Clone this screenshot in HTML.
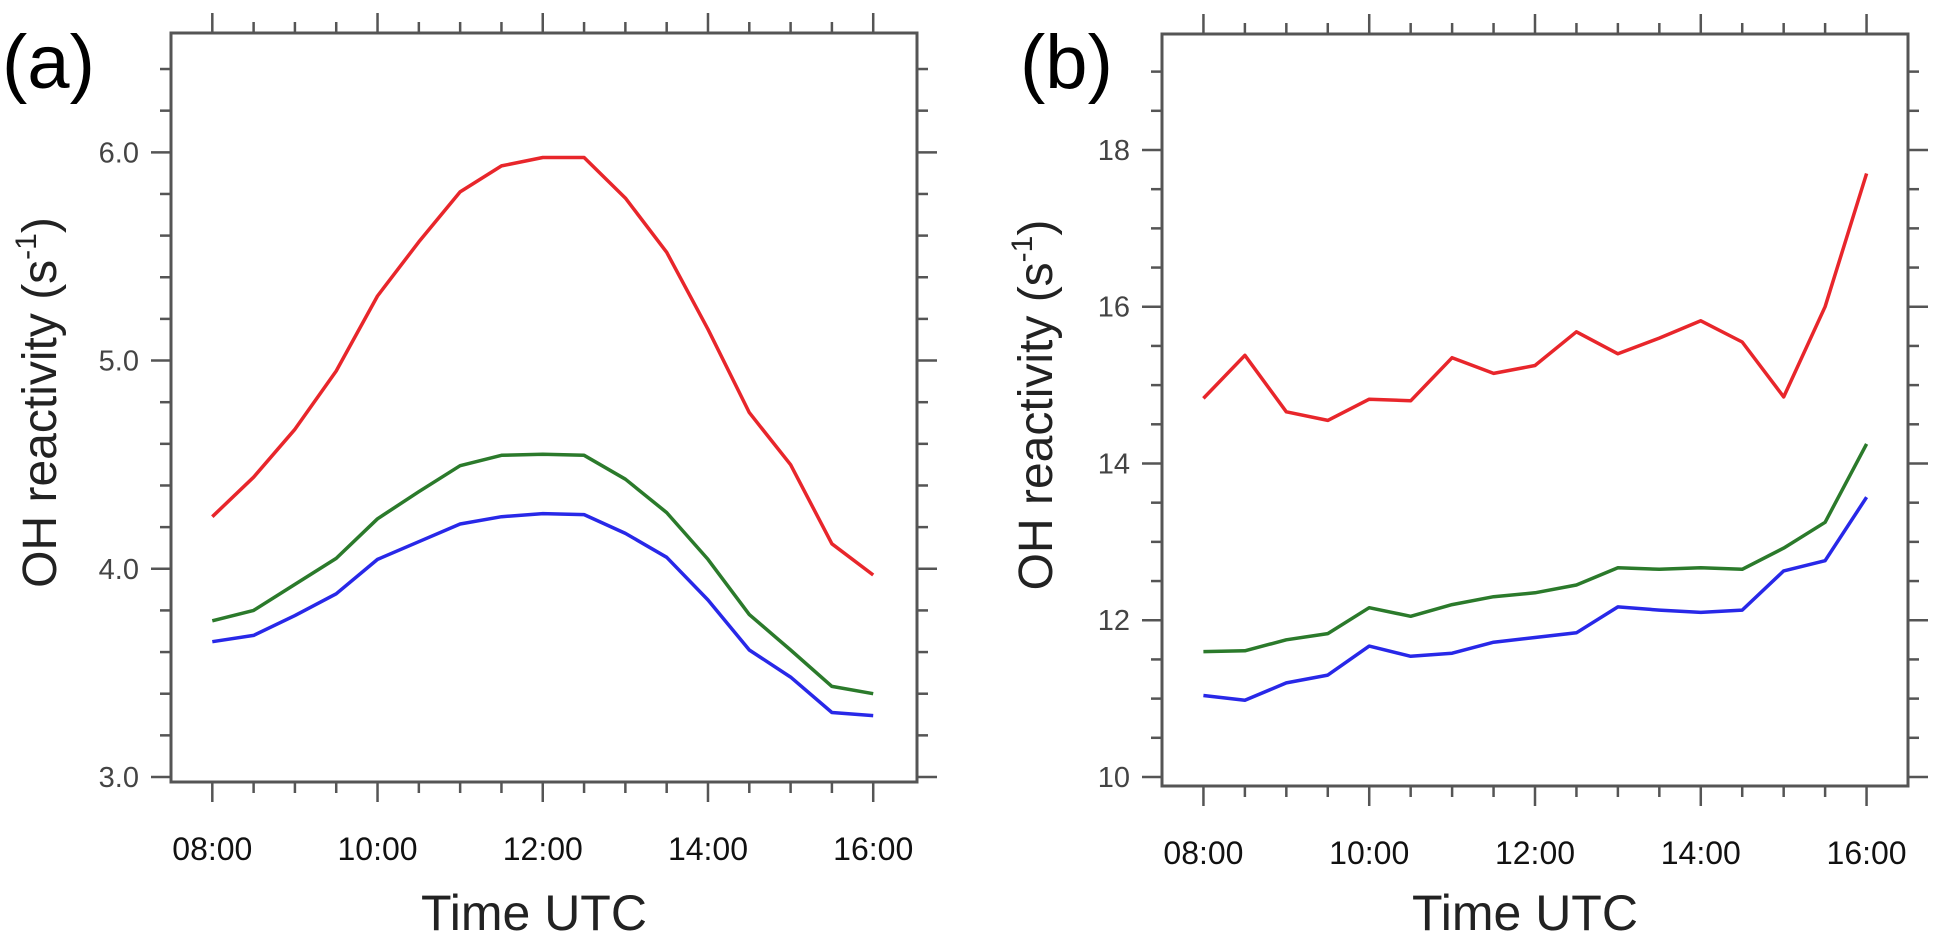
<!DOCTYPE html>
<html><head><meta charset="utf-8"><style>
html,body{margin:0;padding:0;background:#fff;}
svg{display:block;font-family:"Liberation Sans",Arial,sans-serif;}
</style></head><body>
<svg id="chart" width="1935" height="940" viewBox="0 0 1935 940" xmlns="http://www.w3.org/2000/svg"></svg>
<script>
const times = [8,8.5,9,9.5,10,10.5,11,11.5,12,12.5,13,13.5,14,14.5,15,15.5,16];
const xTickLabels = ["08:00","10:00","12:00","14:00","16:00"];
const xTickValues = [8,10,12,14,16];
const aRed   = [4.25,4.44,4.67,4.95,5.31,5.57,5.81,5.935,5.975,5.975,5.78,5.52,5.15,4.75,4.50,4.12,3.97];
const aGreen = [3.75,3.80,3.925,4.05,4.24,4.37,4.495,4.545,4.55,4.545,4.43,4.27,4.045,3.78,3.61,3.435,3.40];
const aBlue  = [3.65,3.68,3.775,3.88,4.045,4.13,4.215,4.25,4.265,4.26,4.17,4.055,3.85,3.61,3.48,3.31,3.295];
const bRed   = [14.83,15.38,14.66,14.55,14.82,14.80,15.35,15.15,15.25,15.68,15.40,15.60,15.82,15.55,14.85,16.0,17.7];
const bGreen = [11.60,11.61,11.75,11.83,12.16,12.05,12.20,12.30,12.35,12.45,12.67,12.65,12.67,12.65,12.92,13.25,14.25];
const bBlue  = [11.04,10.98,11.20,11.30,11.67,11.54,11.58,11.72,11.78,11.84,12.17,12.13,12.10,12.13,12.63,12.76,13.57];
const aYTicks = [3,4,5,6];
const aYLabels = ["3.0","4.0","5.0","6.0"];
const bYTicks = [10,12,14,16,18];
const bYLabels = ["10","12","14","16","18"];

const NS="http://www.w3.org/2000/svg";
const svg=document.getElementById('chart');
function mk(tag,attrs,parent){const e=document.createElementNS(NS,tag);for(const k in attrs)e.setAttribute(k,attrs[k]);(parent||svg).appendChild(e);return e;}

function panel(cfg){
  const g=mk('g',{});
  
  
  const {L,R,T,B,x0,x1,y0,y1}=cfg;
  const xs=v=>L+(v-x0)/(x1-x0)*(R-L);
  const ys=v=>B-(v-y0)/(y1-y0)*(B-T);
  const tickCol='#555';
  for(let t=8;t<=16.001;t+=0.5){
    const major=Math.abs(t%2)<1e-6;
    const len=major?20:11;
    const x=xs(t);
    const tb=mk('line',{x1:x,x2:x,y1:B,y2:B+len,stroke:tickCol,'stroke-width':2.5},g);
    
    
    const tt=mk('line',{x1:x,x2:x,y1:T,y2:T-len,stroke:tickCol,'stroke-width':2.5},g);
    
    
  }
  for(let v=cfg.yMinorStart;v<=y1+1e-6;v+=cfg.yMinor){
    const rel=(v-cfg.yMajorBase)/cfg.yMajor;
    const major=Math.abs(rel-Math.round(rel))<1e-6;
    const len=major?20:11;
    const y=ys(v);
    const tl=mk('line',{x1:L,x2:L-len,y1:y,y2:y,stroke:tickCol,'stroke-width':2.5},g);
    
    
    const tr=mk('line',{x1:R,x2:R+len,y1:y,y2:y,stroke:tickCol,'stroke-width':2.5},g);
    
    
  }
  const box=mk('rect',{x:L,y:T,width:R-L,height:B-T,fill:'none',stroke:'#555','stroke-width':3},g);
  
  
  xTickValues.forEach((v,i)=>{
    const t=mk('text',{x:xs(v),y:B+78,'font-size':32,'text-anchor':'middle',fill:'#111'},g);
    t.textContent=xTickLabels[i];
    
    
  });
  cfg.yTicks.forEach((v,i)=>{
    const t=mk('text',{x:L-32,y:ys(v)+10,'font-size':29,'text-anchor':'end',fill:'#444'},g);
    t.textContent=cfg.yLabels[i];
    
    
  });
  cfg.series.forEach(s=>{
    const pts=times.map((t,i)=>xs(t).toFixed(1)+','+ys(s.data[i]).toFixed(1)).join(' ');
    const p=mk('polyline',{points:pts,fill:'none',stroke:s.color,'stroke-width':3.5,'stroke-linejoin':'round'},g);
    
    
  });
  const xt=mk('text',{x:(L+R)/2-10,y:930,'font-size':50,'text-anchor':'middle',fill:'#222'},g);
  xt.textContent='Time UTC';
  
  
  const yt=mk('text',{x:0,y:0,'font-size':48,'text-anchor':'middle',fill:'#222',transform:`translate(${cfg.yTitleX},${(T+B)/2-5}) rotate(-90)`},g);
  yt.innerHTML='OH reactivity (s<tspan font-size="30" dy="-20">-1</tspan><tspan dy="20">)</tspan>';
  
  
  const pl=mk('text',{x:cfg.labelX,y:88,'font-size':76,fill:'#000'},g);
  pl.textContent=cfg.label;
  
  
}

panel({name:'panel-a',label:'(a)',labelX:2,L:171,R:917,T:33,B:782,x0:7.5,x1:16.53,y0:2.976,y1:6.573,
  yMinor:0.2,yMinorStart:3.0,yMajor:1,yMajorBase:3,yTicks:aYTicks,yLabels:aYLabels,yTitleX:56,
  series:[{name:'series-red-a',color:'#e8262b',data:aRed},{name:'series-green-a',color:'#2b7a2b',data:aGreen},{name:'series-blue-a',color:'#2828e8',data:aBlue}]});
panel({name:'panel-b',label:'(b)',labelX:1020,L:1162,R:1908,T:34,B:786,x0:7.5,x1:16.5,y0:9.885,y1:19.48,
  yMinor:0.5,yMinorStart:10,yMajor:2,yMajorBase:10,yTicks:bYTicks,yLabels:bYLabels,yTitleX:1052,
  series:[{name:'series-red-b',color:'#e8262b',data:bRed},{name:'series-green-b',color:'#2b7a2b',data:bGreen},{name:'series-blue-b',color:'#2828e8',data:bBlue}]});
</script>
</body></html>
